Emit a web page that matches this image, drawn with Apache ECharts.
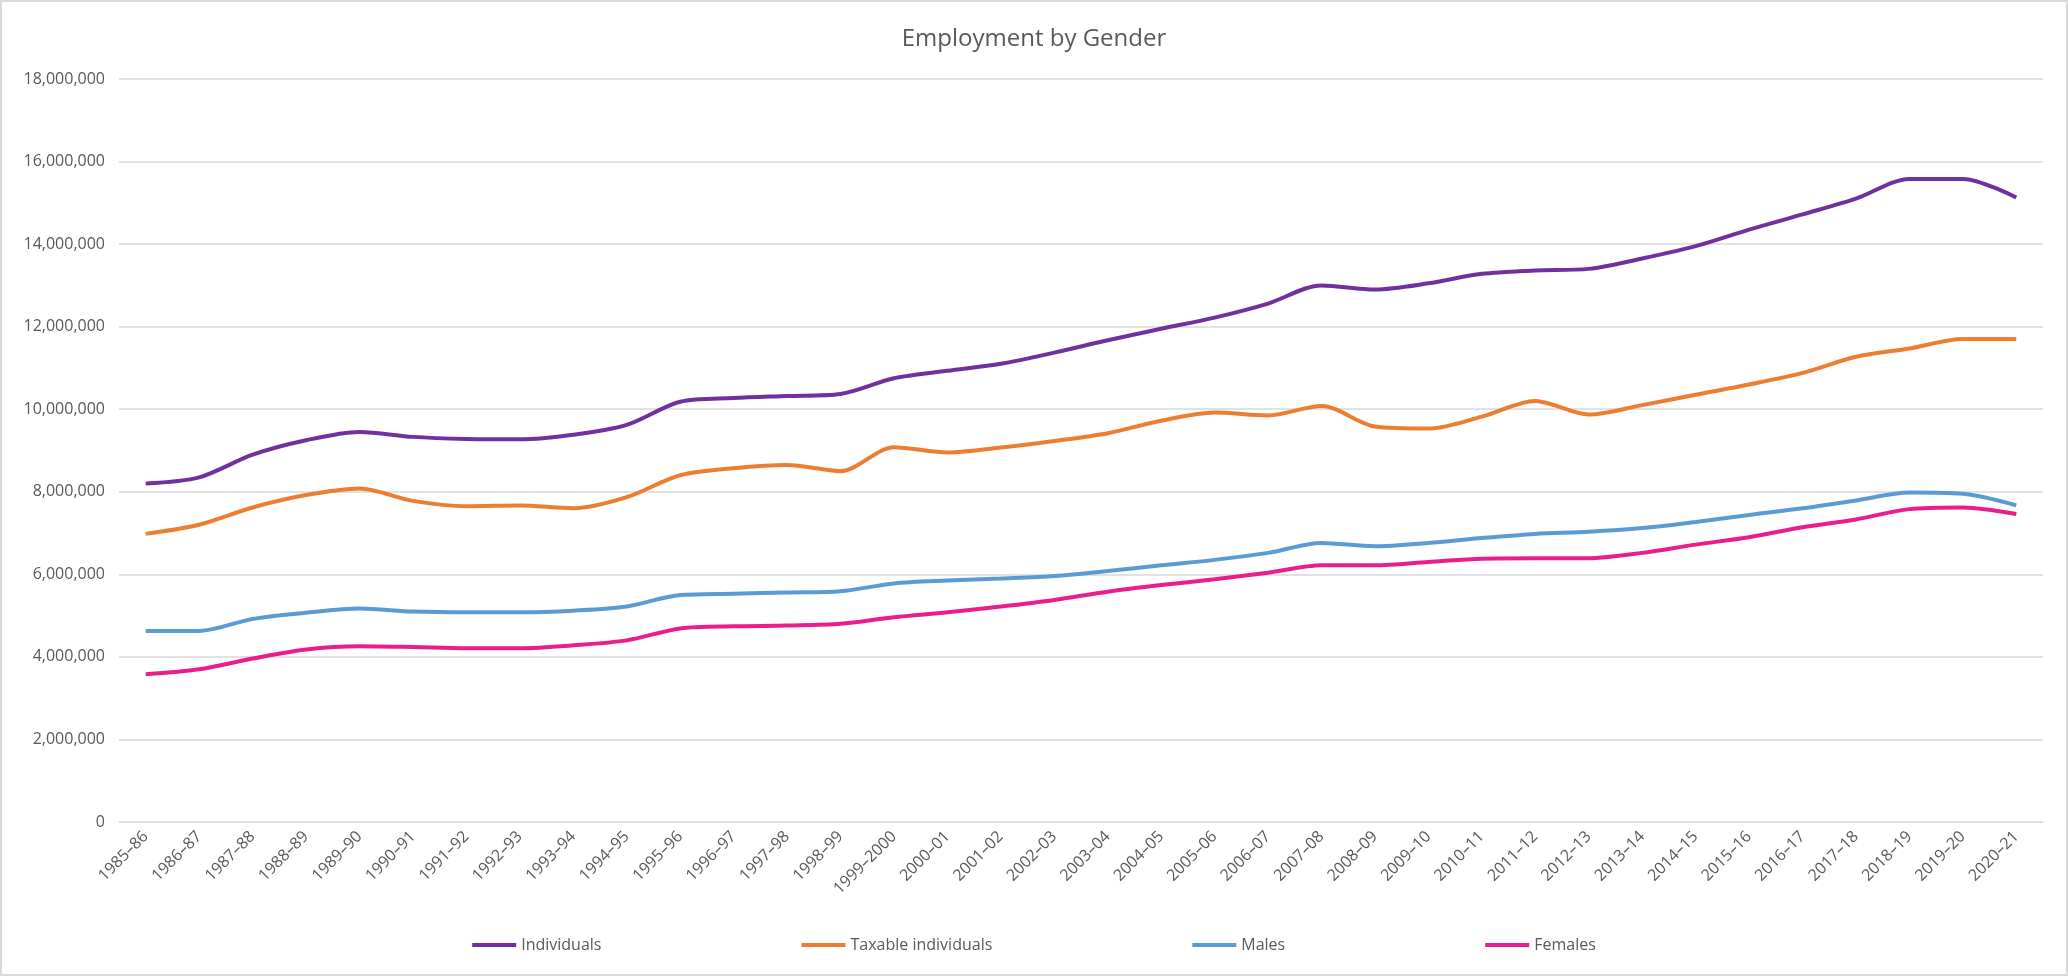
<!DOCTYPE html>
<html>
<head>
<meta charset="utf-8">
<script src="https://cdn.jsdelivr.net/npm/echarts@6/dist/echarts.min.js"></script>
<style>
  html, body { margin: 0; padding: 0; background: #fff; }
  #chart { width: 2068px; height: 976px; box-sizing: border-box; border: 2px solid #d9d9d9; }
</style>
</head>
<body>
<div id="chart"></div>
<script>
// Financial years
const years = [];
for (let y = 1985; y <= 2020; y++) {
    const next = y === 1999 ? '2000' : String(y + 1).slice(2);
    years.push(y + '–' + next);
}

// Values in millions
const individuals = [8.2, 8.35, 8.9, 9.25, 9.45, 9.33, 9.28, 9.27, 9.38, 9.62, 10.18, 10.27, 10.32, 10.37, 10.75, 10.93, 11.1, 11.37, 11.67, 11.95, 12.22, 12.56, 13.0, 12.9, 13.05, 13.28, 13.36, 13.4, 13.65, 13.95, 14.35, 14.72, 15.1, 15.58, 15.58, 15.13];
const taxable = [6.98, 7.2, 7.62, 7.92, 8.08, 7.78, 7.65, 7.67, 7.6, 7.87, 8.4, 8.57, 8.65, 8.5, 9.08, 8.95, 9.07, 9.23, 9.42, 9.72, 9.92, 9.85, 10.08, 9.58, 9.53, 9.82, 10.2, 9.87, 10.1, 10.35, 10.6, 10.88, 11.27, 11.47, 11.7, 11.7];
const males = [4.63, 4.63, 4.92, 5.07, 5.17, 5.1, 5.08, 5.08, 5.12, 5.22, 5.5, 5.53, 5.56, 5.59, 5.78, 5.85, 5.9, 5.96, 6.08, 6.22, 6.35, 6.52, 6.76, 6.68, 6.76, 6.88, 6.98, 7.03, 7.12, 7.27, 7.44, 7.6, 7.79, 7.98, 7.95, 7.67];
const females = [3.58, 3.7, 3.96, 4.18, 4.26, 4.24, 4.21, 4.21, 4.28, 4.4, 4.69, 4.74, 4.76, 4.8, 4.96, 5.08, 5.22, 5.38, 5.58, 5.74, 5.88, 6.04, 6.22, 6.22, 6.3, 6.38, 6.39, 6.39, 6.52, 6.72, 6.9, 7.14, 7.33, 7.58, 7.62, 7.46];

const font = '"Open Sans", "Liberation Sans", sans-serif';
const toUnits = arr => arr.map(v => Math.round(v * 1e6));

function line(name, data, color) {
    return {
        name, type: 'line', data: toUnits(data), smooth: 0.3,
        symbol: 'none', lineStyle: { width: 4, color }, itemStyle: { color }
    };
}

const chart = echarts.init(document.getElementById('chart'));
chart.setOption({
    animation: false,
    textStyle: { fontFamily: font },
    title: {
        text: 'Employment by Gender', left: 'center', top: 20,
        textStyle: { fontFamily: font, fontSize: 24, fontWeight: 'normal', color: '#595959' }
    },
    legend: {
        bottom: 16, left: 'center', itemGap: 200, itemWidth: 44, itemHeight: 4,
        icon: 'rect',
        textStyle: { fontFamily: font, fontSize: 16, color: '#595959' }
    },
    grid: { left: 117, right: 23, top: 77, bottom: 152, containLabel: false },
    xAxis: {
        type: 'category', data: years, boundaryGap: true,
        axisLine: { lineStyle: { color: '#d9d9d9' } },
        axisTick: { show: false },
        axisLabel: { rotate: 45, color: '#595959', fontSize: 16, interval: 0, margin: 12 }
    },
    yAxis: {
        type: 'value', min: 0, max: 18000000, interval: 2000000,
        axisLine: { show: false }, axisTick: { show: false },
        splitLine: { lineStyle: { color: '#d9d9d9', width: 1.5 } },
        axisLabel: { color: '#595959', fontSize: 16, margin: 14,
            formatter: v => v.toLocaleString('en-US') }
    },
    series: [
        line('Individuals', individuals, '#7030a0'),
        line('Taxable individuals', taxable, '#ed7d31'),
        line('Males', males, '#5b9bd5'),
        line('Females', females, '#e91e8c')
    ]
});
</script>
</body>
</html>
